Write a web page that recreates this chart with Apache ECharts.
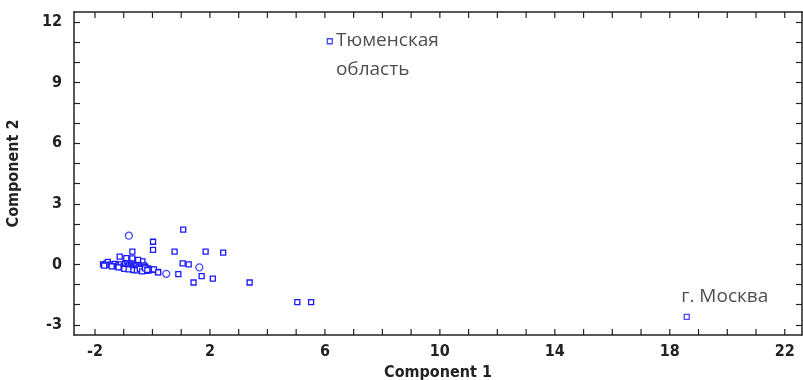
<!DOCTYPE html>
<html><head><meta charset="utf-8">
<script src="https://cdn.jsdelivr.net/npm/echarts@6/dist/echarts.min.js"></script>
<style>html,body{margin:0;padding:0;background:#fff}#c{width:803px;height:380px}</style>
</head><body><div id="c"></div>
<script>
// Component 1 / Component 2 scores (square markers)
const squareX = [-1.72,-1.65,-1.6,-1.55,-1.5,-1.45,-1.4,-1.35,-1.3,-1.25,-1.2,-1.15,-1.1,-1.05,-1.0,-0.95,-0.92,-0.88,-0.85,-0.8,-0.78,-0.75,-0.72,-0.7,-0.68,-0.65,-0.62,-0.6,-0.58,-0.55,-0.52,-0.5,-0.48,-0.45,-0.42,-0.4,-0.38,-0.35,-0.32,-0.3,-0.28,-0.25,-0.22,-0.2,-0.15,-0.12,-0.05,
  -1.68,-1.42,-1.18,-0.98,-0.83,-0.66,-0.54,-0.44,-0.36,-0.26,-0.18,-0.9,-0.7,-0.5,
  1.07,0.02,0.02,-0.70,0.77,1.85,2.46,-1.14,-0.91,1.05,1.26,0.04,0.19,0.90,1.71,1.43,2.10,3.38,5.04,5.52,0.05,0.20];
const squareY = [0.0,-0.02,0.05,0.12,-0.03,0.0,-0.05,-0.08,0.02,-0.1,-0.05,-0.12,0.0,-0.15,-0.08,0.05,-0.18,0.15,-0.1,0.0,-0.2,0.1,-0.05,0.2,-0.15,0.05,-0.25,0.12,-0.08,0.0,0.18,-0.2,-0.05,0.1,-0.28,0.0,-0.15,0.15,-0.22,-0.05,-0.3,-0.12,-0.25,-0.32,-0.2,-0.3,-0.25,
  -0.06,-0.1,-0.15,-0.22,-0.25,-0.28,-0.3,-0.22,-0.35,-0.2,-0.28,0.25,0.3,0.22,
  1.72,1.12,0.72,0.63,0.63,0.63,0.58,0.38,0.31,0.05,0.0,-0.27,-0.38,-0.48,-0.58,-0.90,-0.71,-0.90,-1.87,-1.87,-0.25,-0.40];
// circle markers
const circleX = [-0.82, 0.48, 1.63];
const circleY = [1.42, -0.47, -0.15];
// labelled outliers
const labelNames = ['Тюменская\nобласть', 'г. Москва'];
const labelX = [6.17, 18.59];
const labelY = [11.05, -2.6];
// axis ticks
const xTickLabels = [-2, 2, 6, 10, 14, 18, 22];
const yTickLabels = [-3, 0, 3, 6, 9, 12];
const xMinor = []; for (let v = -2; v <= 22; v++) xMinor.push(v);
const yMinor = []; for (let v = -3; v <= 12; v++) yMinor.push(v);

const X_MIN = -2.73, X_MAX = 22.6, Y_MIN = -3.5, Y_MAX = 12.5;
const lblFont = "'Liberation Sans Narrow','Arial Narrow','DejaVu Sans Condensed',sans-serif";
const blue = '#1a1aff';
const tickStyle = {color: '#222', width: 1.2};
function mkAxis(pos, min, max, ticks, labels, name, gap) {
  const horiz = (pos === 'top' || pos === 'bottom');
  return {
    type: 'value', position: pos, min: min, max: max,
    axisLine: {show: true, onZero: false, lineStyle: {color: '#222', width: 1.5}},
    splitLine: {show: false},
    axisTick: horiz ? {show: false} : {show: true, inside: true, length: 6, lineStyle: tickStyle, customValues: ticks},
    axisLabel: labels ? {show: true, customValues: labels, fontFamily: lblFont, fontWeight: 'bold', fontSize: 16, color: '#222', margin: pos === 'left' ? 12 : 9}
                      : {show: false},
    name: name || '', nameLocation: 'middle', nameGap: gap || 0,
    nameTextStyle: {fontFamily: lblFont, fontWeight: 'bold', fontSize: 16, color: '#222'}
  };
}
const chart = echarts.init(document.getElementById('c'));
chart.setOption({
  animation: false,
  grid: {left: 74, right: 1, top: 12, bottom: 45, outerBoundsMode: 'none', containLabel: false},
  xAxis: [
    mkAxis('bottom', X_MIN, X_MAX, xMinor, xTickLabels, 'Component 1', 28),
    mkAxis('top', X_MIN, X_MAX, xMinor, null)
  ],
  yAxis: [
    mkAxis('left', Y_MIN, Y_MAX, yMinor, yTickLabels, 'Component 2', 52),
    mkAxis('right', Y_MIN, Y_MAX, yMinor, null)
  ],
  series: [
    // x-axis tick marks on bottom and top frame edges, placed through the axis scale
    {type: 'custom', silent: true, z: 5,
     data: xMinor.map(v => [v]),
     encode: {x: 0},
     renderItem: function (params, api) {
       const b = api.coord([api.value(0), Y_MIN]);
       const t = api.coord([api.value(0), Y_MAX]);
       const st = {stroke: '#222', lineWidth: 1.2, fill: null};
       return {type: 'group', children: [
         {type: 'line', shape: {x1: b[0], y1: b[1], x2: b[0], y2: b[1] - 6}, style: st},
         {type: 'line', shape: {x1: t[0], y1: t[1], x2: t[0], y2: t[1] + 6}, style: st}
       ]};
     }},
    {type: 'scatter', symbol: 'rect', symbolSize: 5,
     itemStyle: {color: '#fff', borderColor: blue, borderWidth: 1.3, opacity: 1},
     data: squareX.map((x, i) => [x, squareY[i]])},
    {type: 'scatter', symbol: 'circle', symbolSize: 7,
     itemStyle: {color: '#fff', borderColor: blue, borderWidth: 1.3},
     data: circleX.map((x, i) => [x, circleY[i]])},
    {type: 'scatter', symbol: 'rect', symbolSize: 5,
     itemStyle: {color: '#fff', borderColor: blue, borderWidth: 1.3},
     data: [
       {value: [labelX[0], labelY[0]], name: labelNames[0],
        label: {show: true, position: 'right', distance: 3, offset: [0, 14], lineHeight: 29}},
       {value: [labelX[1], labelY[1]], name: labelNames[1],
        label: {show: true, position: 'top', distance: 8, offset: [38, 0]}}
     ],
     label: {formatter: p => p.name, fontFamily: "'Open Sans','Noto Sans',sans-serif", fontSize: 19, color: '#222'}}
  ]
});
</script></body></html>
